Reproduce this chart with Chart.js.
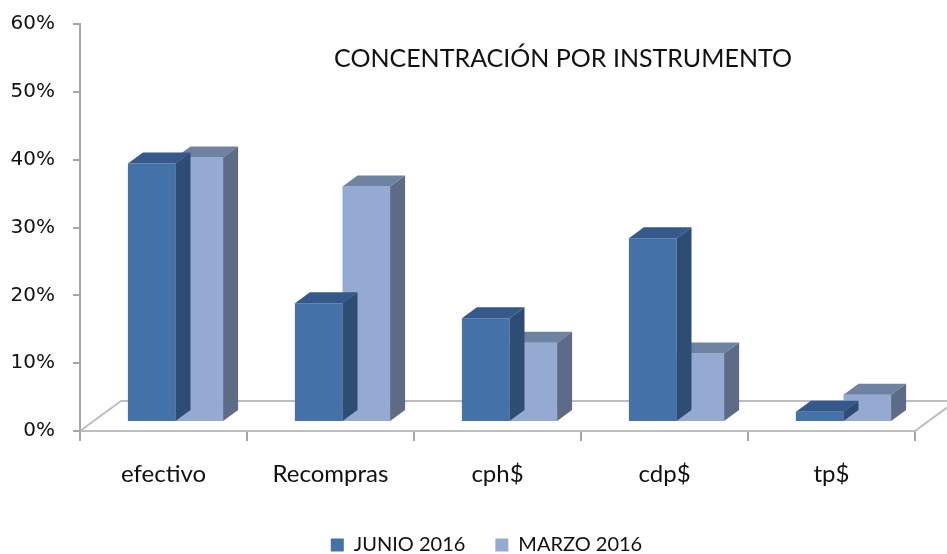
<!DOCTYPE html>
<html>
<head>
<meta charset="utf-8">
<script src="https://cdn.jsdelivr.net/npm/chart.js@4"></script>
<style>
  body { margin: 0; background: #fff; }
  canvas { display: block; }
</style>
</head>
<body>
<canvas id="myChart" width="947" height="554"></canvas>
<script>
const categories = ['efectivo', 'Recompras', 'cph$', 'cdp$', 'tp$'];
const junio2016 = [38.1, 17.5, 15.3, 27.1, 1.5];
const marzo2016 = [39.0, 34.7, 11.7, 10.1, 4.0];
const seriesNames = ['JUNIO 2016', 'MARZO 2016'];
const chartTitle = 'CONCENTRACIÓN POR INSTRUMENTO';

// colours for front / top / side of each series
const faces = [
    { front: '#4472a8', top: '#34598a', side: '#2e4d74' },
    { front: '#95aad2', top: '#6e82a2', side: '#5d6b86' }
];

// fake 3D: bars sit a bit back on the floor, floor has some depth
const FRONT_DX = 12, FRONT_DY = -9;
const BAR_DX = 15, BAR_DY = -11;
const FLOOR_DX = 41, FLOOR_DY = -30;

const threeD = {
    id: 'threeD',
    afterLayout(chart) {
        // legend in the original sits a little right of the canvas centre
        chart.legend.left += 24;
        chart.legend.right += 24;
    },
    beforeDatasetsDraw(chart) {
        const ctx = chart.ctx;
        const a = chart.chartArea;
        // floor outline
        ctx.save();
        ctx.strokeStyle = '#bdbdbd';
        ctx.lineWidth = 2;
        ctx.beginPath();
        ctx.moveTo(a.left, a.bottom);
        ctx.lineTo(a.left + FLOOR_DX, a.bottom + FLOOR_DY);
        ctx.lineTo(a.right + FLOOR_DX, a.bottom + FLOOR_DY);
        ctx.lineTo(a.right, a.bottom);
        ctx.stroke();
        // title inside the plot
        ctx.fillStyle = '#111';
        ctx.font = '25px Lato';
        ctx.textAlign = 'center';
        ctx.textBaseline = 'alphabetic';
        ctx.fillText(chartTitle, 563, 67);
        ctx.restore();
    },
    beforeDatasetDraw(chart) {
        chart.ctx.save();
        chart.ctx.translate(FRONT_DX, FRONT_DY);
    },
    afterDatasetDraw(chart, args) {
        const ctx = chart.ctx;
        const f = faces[args.index];
        args.meta.data.forEach(bar => {
            const p = bar.getProps(['x', 'y', 'base', 'width'], true);
            const l = p.x - p.width / 2, r = p.x + p.width / 2;
            const t = Math.min(p.y, p.base), b = Math.max(p.y, p.base);
            ctx.fillStyle = f.top;
            ctx.beginPath();
            ctx.moveTo(l, t);
            ctx.lineTo(l + BAR_DX, t + BAR_DY);
            ctx.lineTo(r + BAR_DX, t + BAR_DY);
            ctx.lineTo(r, t);
            ctx.closePath();
            ctx.fill();
            ctx.fillStyle = f.side;
            ctx.beginPath();
            ctx.moveTo(r, t);
            ctx.lineTo(r + BAR_DX, t + BAR_DY);
            ctx.lineTo(r + BAR_DX, b + BAR_DY);
            ctx.lineTo(r, b);
            ctx.closePath();
            ctx.fill();
        });
        ctx.restore();
    }
};

const ctx = document.getElementById('myChart').getContext('2d');
const myChart = new Chart(ctx, {
    type: 'bar',
    data: {
        labels: categories,
        datasets: [{
            label: seriesNames[0],
            data: junio2016,
            backgroundColor: faces[0].front,
            borderWidth: 0,
            categoryPercentage: 0.57,
            barPercentage: 1.0
        }, {
            label: seriesNames[1],
            data: marzo2016,
            backgroundColor: faces[1].front,
            borderWidth: 0,
            categoryPercentage: 0.57,
            barPercentage: 1.0
        }]
    },
    options: {
        responsive: false,
        animation: false,
        layout: { padding: { left: 10, right: 32, top: 24, bottom: -11 } },
        plugins: {
            tooltip: { enabled: false },
            legend: {
                position: 'bottom',
                labels: {
                    boxWidth: 13,
                    boxHeight: 13,
                    padding: 30,
                    color: '#111',
                    font: { family: 'Lato', size: 20 }
                }
            }
        },
        scales: {
            x: {
                afterFit(scale) { scale.height = 74; },
                grid: { drawOnChartArea: false, tickLength: 10, color: '#a6a6a6', lineWidth: 2 },
                border: { color: '#bdbdbd', width: 2 },
                ticks: { padding: 19, color: '#111', font: { family: 'Lato', size: 24 } }
            },
            y: {
                min: 0,
                max: 60,
                afterFit(scale) {
                    scale.width = 70;
                    scale.paddingTop = 0;
                },
                grid: { drawOnChartArea: false, tickLength: 7, color: '#a6a6a6', lineWidth: 2 },
                border: { color: '#a6a6a6', width: 2 },
                ticks: {
                    stepSize: 10,
                    padding: 18,
                    color: '#111',
                    font: { family: 'DejaVu Sans', size: 20 },
                    callback: v => v + '%'
                }
            }
        }
    },
    plugins: [threeD]
});
</script>
</body>
</html>
